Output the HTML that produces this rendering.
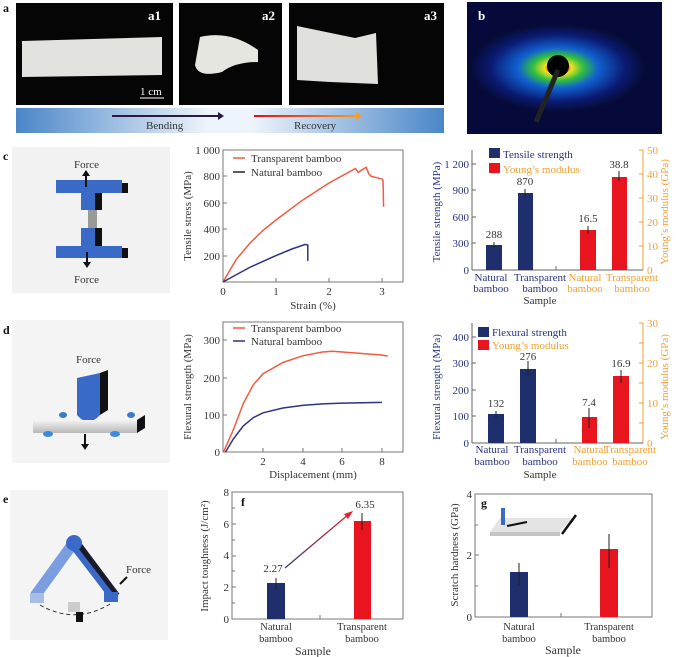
<!DOCTYPE html>
<html><head><meta charset="utf-8"><style>
html,body{margin:0;padding:0;background:#fff}
svg{display:block}
text{font-family:"Liberation Serif",serif;fill:#333}
.t{font-size:11px}
.b{font-weight:bold;fill:#111}
</style></head><body>
<svg width="676" height="657" viewBox="0 0 676 657" xmlns="http://www.w3.org/2000/svg">
<defs>
<linearGradient id="bar" x1="0" x2="1"><stop offset="0" stop-color="#4a86c8"/><stop offset="0.45" stop-color="#eef4fb"/><stop offset="0.55" stop-color="#eef4fb"/><stop offset="1" stop-color="#4a86c8"/></linearGradient>
<linearGradient id="rec" gradientUnits="userSpaceOnUse" x1="254" y1="0" x2="360" y2="0"><stop offset="0" stop-color="#e01020"/><stop offset="1" stop-color="#f5a020"/></linearGradient>
<radialGradient id="saxs" cx="0.5" cy="0.5" r="0.5"><stop offset="0.08" stop-color="#e01010"/><stop offset="0.15" stop-color="#f0e020"/><stop offset="0.28" stop-color="#30c040"/><stop offset="0.45" stop-color="#1060d0"/><stop offset="0.75" stop-color="#0a1a70"/><stop offset="1" stop-color="#050a30"/></radialGradient>
<linearGradient id="slab" x1="0" y1="0" x2="0" y2="1"><stop offset="0" stop-color="#f4f4f4"/><stop offset="1" stop-color="#b8b8b8"/></linearGradient>
<linearGradient id="arr" x1="0" y1="1" x2="1" y2="0"><stop offset="0" stop-color="#2a3a80"/><stop offset="1" stop-color="#e8202a"/></linearGradient>
</defs>

<!-- row a -->
<text x="3" y="12" class="b" font-size="12">a</text>
<rect x="16" y="3" width="157" height="102" fill="#050505"/>
<rect x="179" y="3" width="103" height="102" fill="#050505"/>
<rect x="289" y="3" width="155" height="102" fill="#050505"/>
<polygon points="22,41 162,37 162,75 22,77" fill="#e2e2de"/>
<path d="M200,37 Q230,30 258,50 L258,62 Q235,62 222,72 Q198,78 195,65 Z" fill="#e6e6e0"/>
<polygon points="297,26 355,38 376,33 378,84 330,82 297,80" fill="#e0e0dc"/>
<text x="148" y="20" class="b" font-size="13" style="fill:#fff">a1</text>
<text x="262" y="20" class="b" font-size="13" style="fill:#fff">a2</text>
<text x="424" y="20" class="b" font-size="13" style="fill:#fff">a3</text>
<line x1="140" y1="98" x2="164" y2="98" stroke="#fff"/>
<text x="140" y="95" class="t" style="fill:#fff">1 cm</text>
<rect x="16" y="108" width="428" height="25" fill="url(#bar)"/>
<line x1="112" y1="116" x2="218" y2="116" stroke="#2a1a40" stroke-width="2"/>
<polygon points="218,112 224,116 218,120" fill="#2a1a40"/>
<line x1="254" y1="116" x2="356" y2="116" stroke="url(#rec)" stroke-width="2"/>
<polygon points="356,112 362,116 356,120" fill="#f5a020"/>
<text x="146" y="129" class="t" font-size="11">Bending</text>
<text x="294" y="129" class="t" font-size="11">Recovery</text>
<rect x="467" y="2" width="195" height="132" fill="#060a3a"/>
<ellipse cx="558" cy="68" rx="90" ry="45" fill="url(#saxs)"/>
<circle cx="558" cy="66" r="11" fill="#000"/>
<line x1="558" y1="70" x2="536" y2="122" stroke="#222" stroke-width="5"/>
<text x="478" y="20" class="b" font-size="13" style="fill:#fff">b</text>

<!-- c diagram -->
<text x="3" y="160" class="b" font-size="12">c</text>
<rect x="12" y="147" width="158" height="146" fill="#f2f2f2"/>
<rect x="56" y="180" width="66" height="13" fill="#3a6ac8"/><rect x="122" y="183" width="6" height="10" fill="#111"/>
<rect x="81" y="193" width="14" height="17" fill="#3a6ac8"/><rect x="95" y="193" width="7" height="17" fill="#111"/>
<rect x="88" y="210" width="9" height="20" fill="#999"/>
<rect x="81" y="228" width="14" height="20" fill="#3a6ac8"/><rect x="95" y="228" width="7" height="20" fill="#111"/>
<rect x="56" y="246" width="66" height="12" fill="#3a6ac8"/><rect x="122" y="248" width="6" height="10" fill="#111"/>
<line x1="86" y1="173" x2="86" y2="187" stroke="#111" stroke-width="2"/><polygon points="82,176 86,170 90,176" fill="#111"/>
<line x1="87" y1="252" x2="87" y2="264" stroke="#111" stroke-width="2"/><polygon points="83,262 87,268 91,262" fill="#111"/>
<text x="74" y="168" class="t">Force</text>
<text x="74" y="283" class="t">Force</text>

<!-- d diagram -->
<text x="3" y="334" class="b" font-size="12">d</text>
<rect x="12" y="320" width="158" height="143" fill="#f4f4f4"/>
<text x="76" y="363" class="t">Force</text>
<ellipse cx="63" cy="415" rx="4" ry="3" fill="#3a7ad0"/><ellipse cx="131" cy="415" rx="4" ry="3" fill="#3a7ad0"/>
<path d="M77,378 L100,373 L100,415 Q88,428 77,415 Z" fill="#3a6ac8"/>
<polygon points="100,373 108,370 108,410 100,415" fill="#111"/>
<rect x="33" y="420" width="104" height="13" fill="url(#slab)"/>
<polygon points="137,420 145,415 145,428 137,433" fill="#111"/>
<ellipse cx="48" cy="434" rx="5" ry="3" fill="#3a8ae0"/><ellipse cx="115" cy="434" rx="5" ry="3" fill="#3a8ae0"/>
<line x1="85" y1="434" x2="85" y2="446" stroke="#111" stroke-width="2"/><polygon points="81,444 85,450 89,444" fill="#111"/>

<!-- e diagram -->
<text x="3" y="503" class="b" font-size="12">e</text>
<rect x="10" y="490" width="158" height="150" fill="#f4f4f4"/>
<line x1="35" y1="596" x2="72" y2="545" stroke="#7a9ee0" stroke-width="11"/>
<line x1="76" y1="545" x2="115" y2="597" stroke="#1a1a2a" stroke-width="11"/>
<line x1="72" y1="545" x2="112" y2="597" stroke="#3a6ac8" stroke-width="6"/>
<circle cx="74" cy="543" r="8" fill="#3a6ac8"/>
<rect x="30" y="593" width="14" height="10" fill="#a8bce8"/>
<rect x="104" y="592" width="14" height="10" fill="#3a6ac8"/>
<path d="M40,605 Q75,625 110,604" fill="none" stroke="#333" stroke-dasharray="4,3"/>
<rect x="68" y="602" width="12" height="10" fill="#ccc"/><rect x="76" y="612" width="7" height="10" fill="#111"/>
<text x="126" y="573" class="t">Force</text>
<line x1="120" y1="584" x2="127" y2="577" stroke="#111" stroke-width="2"/>

<!-- c tensile -->
<rect x="223" y="150" width="180" height="132" fill="none" stroke="#777"/>
<g class="t" text-anchor="end" font-size="11">
<text x="220" y="154">1 000</text><text x="220" y="180">800</text><text x="220" y="207">600</text><text x="220" y="233">400</text><text x="220" y="260">200</text>
</g>
<g stroke="#777"><line x1="223" y1="176" x2="227" y2="176"/><line x1="223" y1="203" x2="227" y2="203"/><line x1="223" y1="229" x2="227" y2="229"/><line x1="223" y1="256" x2="227" y2="256"/><line x1="276" y1="282" x2="276" y2="278"/><line x1="329" y1="282" x2="329" y2="278"/><line x1="382" y1="282" x2="382" y2="278"/></g>
<g class="t" text-anchor="middle"><text x="223" y="295">0</text><text x="276" y="295">1</text><text x="329" y="295">2</text><text x="382" y="295">3</text></g>
<text x="313" y="309" class="t" text-anchor="middle">Strain (%)</text>
<text transform="translate(191,216) rotate(-90)" class="t" text-anchor="middle">Tensile stress (MPa)</text>
<line x1="233" y1="158" x2="245" y2="158" stroke="#f05a40" stroke-width="1.5"/><text x="251" y="162" class="t" font-size="10.5">Transparent bamboo</text>
<line x1="233" y1="172" x2="245" y2="172" stroke="#222" stroke-width="1.5"/><text x="251" y="176" class="t" font-size="10.5">Natural bamboo</text>
<polyline fill="none" stroke="#f05a40" stroke-width="1.5" points="223,282 236.3,259.3 249.5,243.7 262.8,230.5 276,220 302.5,200.2 329,183 355.5,168.5 358.2,172.4 366.1,167.2 368.8,173.8 371.4,176.4 376.7,177.7 382,179 383,180.4 383.6,206.8"/>
<polyline fill="none" stroke="#2a3380" stroke-width="1.5" points="223,282 249.5,267.5 276,255.6 291.9,249 305.2,244.4 307.8,245 307.8,260.9"/>

<!-- c bars -->
<line x1="472" y1="150" x2="472" y2="270" stroke="#666"/>
<line x1="643" y1="150" x2="643" y2="270" stroke="#f0a030"/>
<line x1="472" y1="270" x2="643" y2="270" stroke="#666"/>
<g class="t" text-anchor="end"><text x="469" y="168" style="fill:#2a3380">1 200</text><text x="469" y="194" style="fill:#2a3380">900</text><text x="469" y="221" style="fill:#2a3380">600</text><text x="469" y="247" style="fill:#2a3380">300</text><text x="469" y="274" style="fill:#2a3380">0</text></g>
<g stroke="#666"><line x1="472" y1="164" x2="476" y2="164"/><line x1="472" y1="190" x2="476" y2="190"/><line x1="472" y1="217" x2="476" y2="217"/><line x1="472" y1="243" x2="476" y2="243"/><line x1="556" y1="270" x2="556" y2="266"/></g>
<g stroke="#f0a030"><line x1="639" y1="150" x2="643" y2="150"/><line x1="639" y1="174" x2="643" y2="174"/><line x1="639" y1="198" x2="643" y2="198"/><line x1="639" y1="222" x2="643" y2="222"/><line x1="639" y1="246" x2="643" y2="246"/></g>
<g class="t"><text x="647" y="154" style="fill:#f0a030">50</text><text x="647" y="178" style="fill:#f0a030">40</text><text x="647" y="202" style="fill:#f0a030">30</text><text x="647" y="226" style="fill:#f0a030">20</text><text x="647" y="250" style="fill:#f0a030">10</text><text x="647" y="274" style="fill:#f0a030">0</text></g>
<rect x="486" y="245" width="16" height="25" fill="#1f2f6e"/>
<rect x="518" y="193" width="15" height="77" fill="#1f2f6e"/>
<rect x="580" y="230" width="16" height="40" fill="#e8141e"/>
<rect x="612" y="177" width="15" height="93" fill="#e8141e"/>
<g stroke="#222"><line x1="494" y1="242" x2="494" y2="248"/><line x1="525" y1="189" x2="525" y2="198"/><line x1="588" y1="226" x2="588" y2="234"/><line x1="619" y1="171" x2="619" y2="181"/></g>
<g class="t" text-anchor="middle"><text x="494" y="238">288</text><text x="525" y="185">870</text><text x="588" y="222">16.5</text><text x="619" y="168">38.8</text></g>
<rect x="489" y="148" width="11" height="10" fill="#1f2f6e"/><text x="503" y="158" class="t" style="fill:#2a3380">Tensile strength</text>
<rect x="489" y="163" width="11" height="10" fill="#e8141e"/><text x="503" y="173" class="t" style="fill:#f0a030">Young’s modulus</text>
<g class="t" text-anchor="middle" font-size="10.5">
<text x="491" y="281" style="fill:#2a3380">Natural</text><text x="491" y="292" style="fill:#2a3380">bamboo</text>
<text x="540" y="281" style="fill:#2a3380">Transparent</text><text x="540" y="292" style="fill:#2a3380">bamboo</text>
<text x="585" y="281" style="fill:#f0a030">Natural</text><text x="585" y="292" style="fill:#f0a030">bamboo</text>
<text x="632" y="281" style="fill:#f0a030">Transparent</text><text x="632" y="292" style="fill:#f0a030">bamboo</text>
</g>
<text x="540" y="304" class="t" text-anchor="middle" font-size="12">Sample</text>
<text transform="translate(440,212) rotate(-90)" class="t" text-anchor="middle" style="fill:#2a3380">Tensile strength (MPa)</text>
<text transform="translate(668,212) rotate(-90)" class="t" text-anchor="middle" style="fill:#f0a030">Young’s modulus (GPa)</text>

<!-- d flexural -->
<rect x="223" y="322" width="180" height="130" fill="none" stroke="#777"/>
<g class="t" text-anchor="end"><text x="220" y="344">300</text><text x="220" y="382">200</text><text x="220" y="419">100</text><text x="220" y="456">0</text></g>
<g stroke="#777"><line x1="223" y1="340" x2="227" y2="340"/><line x1="223" y1="378" x2="227" y2="378"/><line x1="223" y1="415" x2="227" y2="415"/><line x1="263" y1="452" x2="263" y2="448"/><line x1="303" y1="452" x2="303" y2="448"/><line x1="342" y1="452" x2="342" y2="448"/><line x1="382" y1="452" x2="382" y2="448"/></g>
<g class="t" text-anchor="middle"><text x="263" y="465">2</text><text x="303" y="465">4</text><text x="342" y="465">6</text><text x="382" y="465">8</text></g>
<text x="313" y="478" class="t" text-anchor="middle" font-size="12">Displacement (mm)</text>
<text transform="translate(191,387) rotate(-90)" class="t" text-anchor="middle">Flexural strength (MPa)</text>
<line x1="233" y1="328" x2="245" y2="328" stroke="#f05a40" stroke-width="1.5"/><text x="251" y="332" class="t" font-size="10.5">Transparent bamboo</text>
<line x1="233" y1="341" x2="245" y2="341" stroke="#2a3380" stroke-width="1.5"/><text x="251" y="345" class="t" font-size="10.5">Natural bamboo</text>
<polyline fill="none" stroke="#f05a40" stroke-width="1.5" points="223.5,452 233.4,429.6 243.3,403.5 253.2,384.9 263.1,373.7 282.9,362.5 302.7,355.8 322.5,352 332.4,351.3 342.3,352 362.1,353.5 381.9,355 387.8,356.1"/>
<polyline fill="none" stroke="#2a3380" stroke-width="1.5" points="225.5,452 233.4,438.9 243.3,425.9 253.2,417.7 263.1,412.8 282.9,408 302.7,405.4 322.5,403.9 342.3,403.1 381.9,402.4"/>

<!-- d bars -->
<line x1="472" y1="323" x2="472" y2="443" stroke="#666"/>
<line x1="643" y1="323" x2="643" y2="443" stroke="#f0a030"/>
<line x1="472" y1="443" x2="643" y2="443" stroke="#666"/>
<g class="t" text-anchor="end"><text x="469" y="341" style="fill:#2a3380">400</text><text x="469" y="367" style="fill:#2a3380">300</text><text x="469" y="394" style="fill:#2a3380">200</text><text x="469" y="420" style="fill:#2a3380">100</text><text x="469" y="447" style="fill:#2a3380">0</text></g>
<g stroke="#666"><line x1="472" y1="337" x2="476" y2="337"/><line x1="472" y1="363" x2="476" y2="363"/><line x1="472" y1="390" x2="476" y2="390"/><line x1="472" y1="416" x2="476" y2="416"/><line x1="556" y1="443" x2="556" y2="439"/></g>
<g stroke="#f0a030"><line x1="639" y1="323" x2="643" y2="323"/><line x1="639" y1="343" x2="643" y2="343"/><line x1="639" y1="363" x2="643" y2="363"/><line x1="639" y1="383" x2="643" y2="383"/><line x1="639" y1="403" x2="643" y2="403"/><line x1="639" y1="423" x2="643" y2="423"/></g>
<g class="t"><text x="647" y="327" style="fill:#f0a030">30</text><text x="647" y="367" style="fill:#f0a030">20</text><text x="647" y="407" style="fill:#f0a030">10</text><text x="647" y="447" style="fill:#f0a030">0</text></g>
<rect x="488" y="414" width="16" height="29" fill="#1f2f6e"/>
<rect x="520" y="369" width="16" height="74" fill="#1f2f6e"/>
<rect x="582" y="417" width="15" height="26" fill="#e8141e"/>
<rect x="613" y="376" width="16" height="67" fill="#e8141e"/>
<g stroke="#222"><line x1="496" y1="411" x2="496" y2="418"/><line x1="528" y1="361" x2="528" y2="377"/><line x1="589" y1="408" x2="589" y2="428"/><line x1="621" y1="370" x2="621" y2="383"/></g>
<g class="t" text-anchor="middle"><text x="496" y="407">132</text><text x="528" y="360">276</text><text x="589" y="406">7.4</text><text x="621" y="367">16.9</text></g>
<rect x="478" y="327" width="11" height="10" fill="#1f2f6e"/><text x="492" y="336" class="t" style="fill:#2a3380">Flexural strength</text>
<rect x="478" y="340" width="11" height="10" fill="#e8141e"/><text x="492" y="349" class="t" style="fill:#f0a030">Young’s modulus</text>
<g class="t" text-anchor="middle" font-size="10.5">
<text x="492" y="453" style="fill:#2a3380">Natural</text><text x="492" y="465" style="fill:#2a3380">bamboo</text>
<text x="540" y="453" style="fill:#2a3380">Transparent</text><text x="540" y="465" style="fill:#2a3380">bamboo</text>
<text x="590" y="453" style="fill:#f0a030">Natural</text><text x="590" y="465" style="fill:#f0a030">bamboo</text>
<text x="630" y="453" style="fill:#f0a030">Transparent</text><text x="630" y="465" style="fill:#f0a030">bamboo</text>
</g>
<text x="540" y="478" class="t" text-anchor="middle" font-size="12">Sample</text>
<text transform="translate(440,387) rotate(-90)" class="t" text-anchor="middle" style="fill:#2a3380">Flexural strength (MPa)</text>
<text transform="translate(668,387) rotate(-90)" class="t" text-anchor="middle" style="fill:#f0a030">Young’s modulus (GPa)</text>

<!-- f -->
<rect x="232" y="492" width="171" height="127" fill="none" stroke="#777"/>
<g class="t" text-anchor="end"><text x="229" y="496">8</text><text x="229" y="528">6</text><text x="229" y="559">4</text><text x="229" y="591">2</text><text x="229" y="623">0</text></g>
<g stroke="#777"><line x1="232" y1="508" x2="235" y2="508"/><line x1="232" y1="524" x2="236" y2="524"/><line x1="232" y1="540" x2="235" y2="540"/><line x1="232" y1="556" x2="236" y2="556"/><line x1="232" y1="571" x2="235" y2="571"/><line x1="232" y1="587" x2="236" y2="587"/><line x1="232" y1="603" x2="235" y2="603"/><line x1="320" y1="619" x2="320" y2="615"/></g>
<text x="241" y="506" class="b" font-size="12">f</text>
<rect x="267" y="583" width="18" height="36" fill="#1f2f6e"/>
<rect x="354" y="521" width="17" height="98" fill="#e8141e"/>
<g stroke="#222"><line x1="276" y1="578" x2="276" y2="590"/><line x1="362" y1="513" x2="362" y2="530"/></g>
<line x1="285" y1="568" x2="349" y2="514" stroke="url(#arr)" stroke-width="1.3"/>
<polygon points="353,511 344,514 348,519" fill="#e8202a"/>
<g class="t" text-anchor="middle"><text x="273" y="572">2.27</text><text x="365" y="508">6.35</text>
<text x="276" y="630" font-size="10.5">Natural</text><text x="276" y="642" font-size="10.5">bamboo</text>
<text x="362" y="630" font-size="10.5">Transparent</text><text x="362" y="642" font-size="10.5">bamboo</text>
<text x="313" y="655" font-size="12">Sample</text></g>
<text transform="translate(208,556) rotate(-90)" class="t" text-anchor="middle">Impact toughness (J/cm²)</text>

<!-- g -->
<rect x="475" y="494" width="177" height="123" fill="none" stroke="#777"/>
<g class="t" text-anchor="end"><text x="472" y="498">4</text><text x="472" y="559">2</text><text x="472" y="621">0</text></g>
<g stroke="#777"><line x1="475" y1="525" x2="478" y2="525"/><line x1="475" y1="555" x2="479" y2="555"/><line x1="475" y1="586" x2="478" y2="586"/><line x1="561" y1="617" x2="561" y2="613"/></g>
<text x="481" y="507" class="b" font-size="12">g</text>
<polygon points="490,532 560,532 572,518 500,518" fill="#e4e4e4"/>
<rect x="490" y="532" width="70" height="4" fill="#c4c4c4"/>
<line x1="562" y1="534" x2="576" y2="515" stroke="#111" stroke-width="2.5"/>
<rect x="501" y="508" width="4" height="17" fill="#3a6ac8"/>
<line x1="507" y1="526" x2="527" y2="522" stroke="#111" stroke-width="2"/>
<rect x="510" y="572" width="18" height="45" fill="#1f2f6e"/>
<rect x="600" y="549" width="18" height="68" fill="#e8141e"/>
<g stroke="#222"><line x1="519" y1="563" x2="519" y2="585"/><line x1="609" y1="534" x2="609" y2="568"/></g>
<g class="t" text-anchor="middle"><text x="519" y="630" font-size="10.5">Natural</text><text x="519" y="642" font-size="10.5">bamboo</text>
<text x="609" y="630" font-size="10.5">Transparent</text><text x="609" y="642" font-size="10.5">bamboo</text>
<text x="563" y="654" font-size="12">Sample</text></g>
<text transform="translate(458,555) rotate(-90)" class="t" text-anchor="middle">Scratch hardness (GPa)</text>
</svg>
</body></html>
